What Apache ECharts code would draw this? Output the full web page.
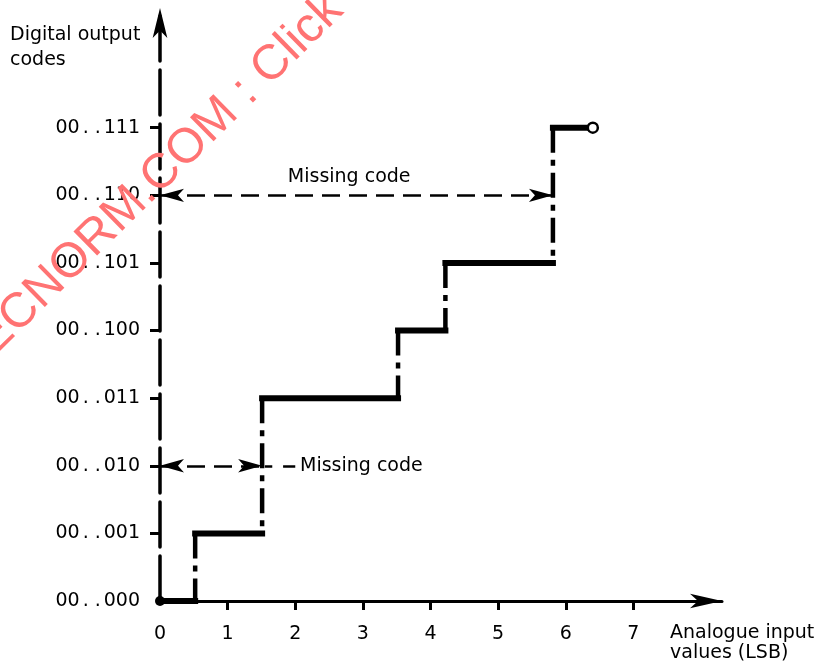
<!DOCTYPE html>
<html><head><meta charset="utf-8">
<script src="https://cdn.jsdelivr.net/npm/echarts@6/dist/echarts.min.js"></script>
<style>html,body{margin:0;padding:0;background:#fff}#c{width:819px;height:666px}</style>
</head><body><div id="c"></div>
<script>
// ---- data ----
const xTickValues = [1, 2, 3, 4, 5, 6, 7];
const xLabelValues = [0, 1, 2, 3, 4, 5, 6, 7];
const xTickLabels = ['0', '1', '2', '3', '4', '5', '6', '7'];
const codeTickValues = [1, 2, 3, 4, 5, 6, 7];
const codeLabelValues = [0, 1, 2, 3, 4, 5, 6, 7];
const codeLabels = ['00..000', '00..001', '00..010', '00..011', '00..100', '00..101', '00..110', '00..111'];
const transitionX = [0.52, 1.51, 3.52, 4.22, 5.81];
const outputLevels = [0, 1, 3, 4, 5, 7];
const lastStepEndX = 6.4;
const missingCodes = [2, 6];
const missingArrowEndX = [1.51, 5.81];
const missingLabelPos = [[2.07, 2.0], [1.89, 6.27]];
const leaderDashes = [[1.55, 1.66], [1.82, 2.0]];
const xName = 'Analogue input\nvalues (LSB)';
const yName = 'Digital output\ncodes';
const watermark = 'IECNORM.COM : Click to view the full PDF';

// ---- build ----
const INK = '#000';
const FONT = 'DejaVu Sans';
const FS = 19;
const series = [];
const starts = [0].concat(transitionX);
const ends = transitionX.concat([lastStepEndX]);
outputLevels.forEach((lv, i) => {
  series.push({
    type: 'line', silent: true, symbol: 'none', z: 3,
    lineStyle: { color: INK, width: 6, cap: 'square' },
    data: [[starts[i], lv], [ends[i], lv]]
  });
});
transitionX.forEach((t, i) => {
  series.push({
    type: 'line', silent: true, symbol: 'none', z: 3,
    lineStyle: { color: INK, width: 4.5, type: [25, 7, 6, 7] },
    data: [[t, outputLevels[i + 1]], [t, outputLevels[i]]]
  });
});
// missing code arrows
series.push({
  type: 'line', silent: true, symbol: 'none', data: [],
  markLine: {
    silent: true, symbol: ['arrow', 'arrow'], symbolSize: [10, 24],
    label: { show: false },
    lineStyle: { color: INK, width: 2.5, type: [18, 9], opacity: 1 },
    emphasis: { disabled: true },
    data: missingCodes.map((c, i) => [{ coord: [0, c] }, { coord: [missingArrowEndX[i], c] }])
  }
});
series.push({
  type: 'line', silent: true, symbol: 'none', data: [],
  markLine: {
    silent: true, symbol: ['none', 'none'],
    label: { show: false },
    lineStyle: { color: INK, width: 2.5, type: 'solid', opacity: 1 },
    emphasis: { disabled: true },
    data: leaderDashes.map(d => [{ coord: [d[0], missingCodes[0]] }, { coord: [d[1], missingCodes[0]] }])
  }
});
// labels
series.push({
  type: 'scatter', silent: true, symbolSize: 0, z: 4,
  itemStyle: { opacity: 1 },
  label: { show: true, position: 'right', distance: 0, formatter: 'Missing code',
    fontFamily: FONT, fontSize: FS, color: INK, opacity: 1 },
  data: missingLabelPos
});
// origin dot and end circle
series.push({
  type: 'scatter', silent: true, symbol: 'circle', symbolSize: 10, z: 5,
  itemStyle: { color: INK, opacity: 1 },
  data: [[0, outputLevels[0]]]
});
series.push({
  type: 'scatter', silent: true, symbol: 'circle', symbolSize: 10, z: 5,
  itemStyle: { color: '#fff', borderColor: INK, borderWidth: 2.5, opacity: 1 },
  data: [[lastStepEndX, outputLevels[outputLevels.length - 1]]]
});

const chart = echarts.init(document.getElementById('c'), null, { renderer: 'canvas' });
chart.setOption({
  animation: false,
  backgroundColor: '#fff',
  grid: { left: 160, right: 97, top: 8, bottom: 65, containLabel: false },
  xAxis: {
    type: 'value', min: 0, max: 8.31,
    splitLine: { show: false },
    axisLine: { show: true, lineStyle: { color: INK, width: 3 }, symbol: ['none', 'arrow'], symbolSize: [11, 32] },
    axisTick: { show: true, customValues: xTickValues, length: 9, lineStyle: { color: INK, width: 3 } },
    axisLabel: { customValues: xLabelValues, formatter: v => xTickLabels[xLabelValues.indexOf(v)],
      margin: 24, fontFamily: FONT, fontSize: FS, color: INK }
  },
  yAxis: {
    type: 'value', min: 0, max: 8.77,
    splitLine: { show: false },
    axisLine: { show: true, lineStyle: { color: INK, width: 3.5, type: [45, 9] }, symbol: ['none', 'arrow'], symbolSize: [11, 30] },
    axisTick: { show: true, customValues: codeTickValues, length: 10, lineStyle: { color: INK, width: 3 } },
    axisLabel: { customValues: codeLabelValues,
      formatter: v => { const s = codeLabels[codeLabelValues.indexOf(v)]; return s.slice(0, 2) + '{d|.}{d|.}' + s.slice(4); },
      rich: { d: { padding: [0, 3], fontFamily: FONT, fontSize: FS, color: INK } },
      margin: 20, fontFamily: FONT, fontSize: FS, color: INK }
  },
  graphic: [
    { type: 'text', left: 10, top: 23, silent: true,
      style: { text: yName, font: FS + 'px "DejaVu Sans"', fill: INK, lineHeight: 25 } },
    { type: 'text', left: 670, top: 623, silent: true,
      style: { text: xName, font: FS + 'px "DejaVu Sans"', fill: INK, lineHeight: 20 } },
    { type: 'text', x: -43, y: 340, rotation: Math.PI * 44.5 / 180, silent: true, z: 100,
      style: { text: watermark, font: '49px "Liberation Sans"', fill: '#ff7373' } }
  ],
  series: series
});
</script></body></html>
